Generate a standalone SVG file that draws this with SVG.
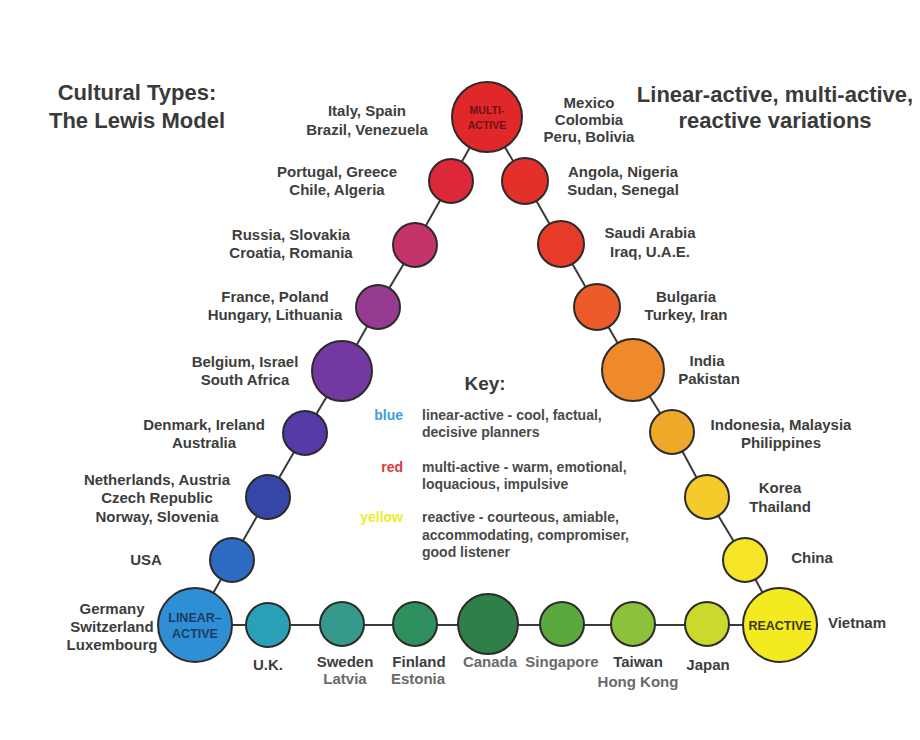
<svg xmlns="http://www.w3.org/2000/svg" width="920" height="740" viewBox="0 0 920 740">
<style>
.n{stroke:#2b2b2b;stroke-width:2}
.c{stroke:#3a3a3a;stroke-width:2;fill:none}
.t{font-family:"Liberation Sans",Arial,sans-serif;font-weight:bold;font-size:15px;fill:#3d3d3d;text-anchor:middle}
.l{fill:#6a6a6a}
.h{font-family:"Liberation Sans",Arial,sans-serif;font-weight:bold;font-size:22px;fill:#3a3a3a;text-anchor:middle}
.k{font-family:"Liberation Sans",Arial,sans-serif;font-weight:bold;font-size:14px;fill:#4a4a4a}
.kc{font-family:"Liberation Sans",Arial,sans-serif;font-weight:bold;font-size:14px;text-anchor:end}
.in{font-family:"Liberation Sans",Arial,sans-serif;font-weight:bold;text-anchor:middle}
</style>
<rect width="920" height="740" fill="#ffffff"/>
<g id="titles">
<text class="h" x="137" y="100">Cultural Types:</text>
<text class="h" x="137" y="128">The Lewis Model</text>
<text class="h" x="775" y="102">Linear-active, multi-active,</text>
<text class="h" x="775" y="128">reactive variations</text>
</g>
<g id="connectors">
<polyline class="c" points="195,625 232,560 268,497 305,433 342,371 378,307 415,245 451,181 487,117 525,181 561,244 597,307 633,370 672,432 707,497 745,560 780,625"/>
<line class="c" x1="195" y1="625" x2="780" y2="625"/>
</g>
<g id="multi-active"><circle class="n" cx="487" cy="117" r="35" fill="#e2272b"/><text class="in" x="487" y="114" font-size="10.5" fill="#6b1414">MULTI-</text><text class="in" x="487" y="129" font-size="10.5" fill="#6b1414">ACTIVE</text></g>
<g id="italy"><text class="t" x="367" y="116">Italy, Spain</text><text class="t" x="367" y="135">Brazil, Venezuela</text></g>
<g id="mexico"><text class="t" x="589" y="108">Mexico</text><text class="t" x="589" y="125">Colombia</text><text class="t" x="589" y="142">Peru, Bolivia</text></g>
<g id="portugal"><circle class="n" cx="451" cy="181" r="22" fill="#dc2838"/><text class="t" x="337" y="177">Portugal, Greece</text><text class="t" x="337" y="195">Chile, Algeria</text></g>
<g id="russia"><circle class="n" cx="415" cy="245" r="22" fill="#c4336a"/><text class="t" x="291" y="240">Russia, Slovakia</text><text class="t" x="291" y="258">Croatia, Romania</text></g>
<g id="france"><circle class="n" cx="378" cy="307" r="22" fill="#963a92"/><text class="t" x="275" y="302">France, Poland</text><text class="t" x="275" y="320">Hungary, Lithuania</text></g>
<g id="belgium"><circle class="n" cx="342" cy="371" r="30" fill="#7339a0"/><text class="t" x="245" y="367">Belgium, Israel</text><text class="t" x="245" y="385">South Africa</text></g>
<g id="denmark"><circle class="n" cx="305" cy="433" r="22" fill="#553aa8"/><text class="t" x="204" y="430">Denmark, Ireland</text><text class="t" x="204" y="448">Australia</text></g>
<g id="netherlands"><circle class="n" cx="268" cy="497" r="22" fill="#3646a6"/><text class="t" x="157" y="485">Netherlands, Austria</text><text class="t" x="157" y="503">Czech Republic</text><text class="t" x="157" y="522">Norway, Slovenia</text></g>
<g id="usa"><circle class="n" cx="232" cy="560" r="22" fill="#2c6ac4"/><text class="t" x="146" y="565">USA</text></g>
<g id="linear-active"><circle class="n" cx="195" cy="625" r="37" fill="#2f8fd5"/><text class="in" x="195" y="622" font-size="12.5" fill="#1d3b66">LINEAR–</text><text class="in" x="195" y="638" font-size="12.5" fill="#1d3b66">ACTIVE</text><text class="t" x="112" y="614">Germany</text><text class="t" x="112" y="632">Switzerland</text><text class="t" x="112" y="650">Luxembourg</text></g>
<g id="uk"><circle class="n" cx="268" cy="625" r="22" fill="#2aa0b8"/><text class="t" x="268" y="670">U.K.</text></g>
<g id="sweden"><circle class="n" cx="342" cy="624" r="22" fill="#35998b"/><text class="t" x="345" y="667">Sweden</text><text class="t l" x="345" y="684">Latvia</text></g>
<g id="finland"><circle class="n" cx="415" cy="624" r="22" fill="#2f8f5e"/><text class="t" x="419" y="667">Finland</text><text class="t l" x="418" y="684">Estonia</text></g>
<g id="canada"><circle class="n" cx="488" cy="624" r="30" fill="#2e7f48"/><text class="t l" x="490" y="667">Canada</text></g>
<g id="singapore"><circle class="n" cx="562" cy="624" r="22" fill="#5aa93f"/><text class="t l" x="562" y="667">Singapore</text></g>
<g id="taiwan"><circle class="n" cx="633" cy="624" r="22" fill="#8cc13c"/><text class="t" x="638" y="667">Taiwan</text><text class="t l" x="638" y="687">Hong Kong</text></g>
<g id="japan"><circle class="n" cx="707" cy="624" r="22" fill="#cbd92c"/><text class="t" x="708" y="670">Japan</text></g>
<g id="reactive"><circle class="n" cx="780" cy="625" r="37" fill="#f4ea20"/><text class="in" x="780" y="630" font-size="12.5" fill="#3c3a12">REACTIVE</text><text class="t" x="857" y="628">Vietnam</text></g>
<g id="china"><circle class="n" cx="745" cy="560" r="22" fill="#f6e527"/><text class="t" x="812" y="563">China</text></g>
<g id="korea"><circle class="n" cx="707" cy="497" r="22" fill="#f4cb2b"/><text class="t" x="780" y="493">Korea</text><text class="t" x="780" y="512">Thailand</text></g>
<g id="indonesia"><circle class="n" cx="672" cy="432" r="22" fill="#f0a829"/><text class="t" x="781" y="430">Indonesia, Malaysia</text><text class="t" x="781" y="448">Philippines</text></g>
<g id="india"><circle class="n" cx="633" cy="370" r="31" fill="#ef8a2b"/><text class="t" x="707" y="366">India</text><text class="t" x="709" y="384">Pakistan</text></g>
<g id="bulgaria"><circle class="n" cx="597" cy="307" r="23" fill="#ec5b29"/><text class="t" x="686" y="302">Bulgaria</text><text class="t" x="686" y="320">Turkey, Iran</text></g>
<g id="saudi"><circle class="n" cx="561" cy="244" r="23" fill="#e73b2a"/><text class="t" x="650" y="238">Saudi Arabia</text><text class="t" x="650" y="257">Iraq, U.A.E.</text></g>
<g id="angola"><circle class="n" cx="525" cy="181" r="23" fill="#e4302a"/><text class="t" x="623" y="177">Angola, Nigeria</text><text class="t" x="623" y="195">Sudan, Senegal</text></g>
<g id="key">
<text class="in" x="485" y="390" font-size="19" fill="#3a3a3a">Key:</text>
<text class="kc" x="403" y="420" fill="#3a9fdc">blue</text>
<text class="k" x="422" y="420">linear-active - cool, factual,</text>
<text class="k" x="422" y="437">decisive planners</text>
<text class="kc" x="403" y="472" fill="#e2383c">red</text>
<text class="k" x="422" y="472">multi-active - warm, emotional,</text>
<text class="k" x="422" y="489">loquacious, impulsive</text>
<text class="kc" x="403" y="522" fill="#eeeb2e">yellow</text>
<text class="k" x="422" y="522">reactive - courteous, amiable,</text>
<text class="k" x="422" y="540">accommodating, compromiser,</text>
<text class="k" x="422" y="557">good listener</text>
</g>
</svg>
